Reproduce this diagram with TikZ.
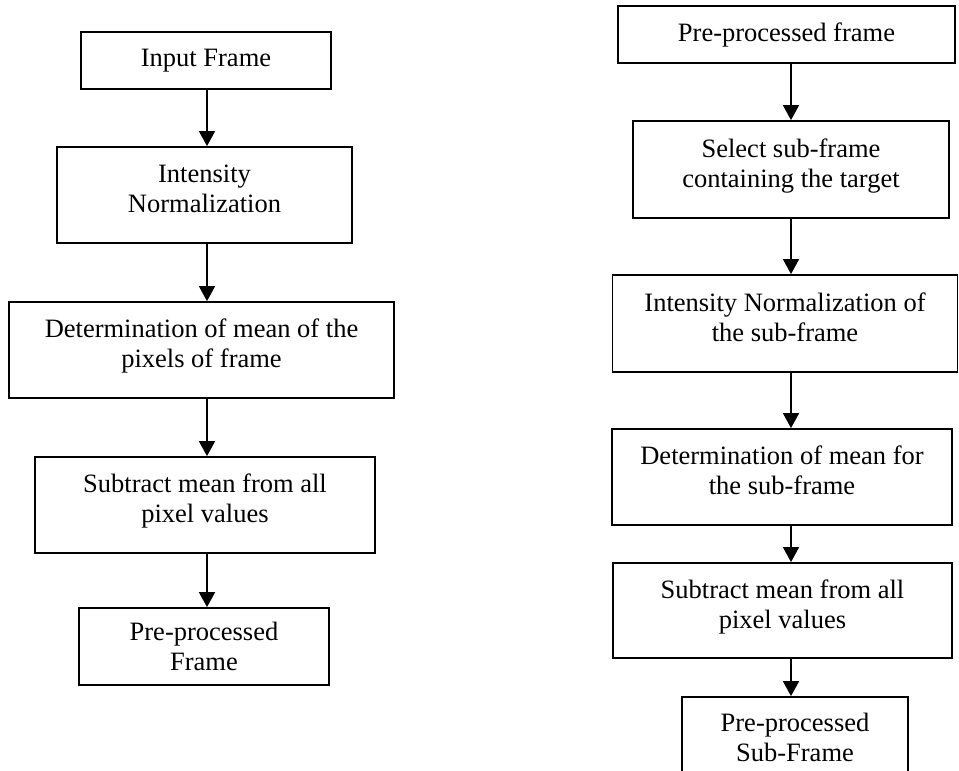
\documentclass[tikz,border=0pt]{standalone}
\usepackage{fontspec}
\setmainfont{Liberation Serif}
\usetikzlibrary{arrows.meta}
\newcommand\lowstrut{\rule[-13pt]{0pt}{13pt}}
\begin{document}
\begin{tikzpicture}[x=1pt,y=-1pt,
  box/.style={draw, line width=1.8pt, inner sep=0pt, align=center,
    font=\fontsize{26.5}{30}\selectfont},
  arr/.style={line width=1.8pt, -{Triangle[width=16pt,length=15pt]}}]
\useasboundingbox (0,0) rectangle (959,771);
% left column
\node[box, minimum width=250pt, minimum height=57pt] (l1) at (206,60.5) {Input Frame};
\node[box, minimum width=295pt, minimum height=96pt] (l2) at (204.5,195) {Intensity\\Normalization\lowstrut};
\node[box, minimum width=385pt, minimum height=96pt] (l3) at (201.5,350) {Determination of mean of the\\pixels of frame\lowstrut};
\node[box, minimum width=340pt, minimum height=96pt] (l4) at (205,505) {Subtract mean from all\\pixel values\lowstrut};
\node[box, minimum width=250pt, minimum height=77pt] (l5) at (204,646.5) {Pre-processed\\Frame};
% right column
\node[box, minimum width=337pt, minimum height=57pt] (r1) at (786.5,34.5) {Pre-processed frame};
\node[box, minimum width=316pt, minimum height=97pt] (r2) at (791,169.5) {Select sub-frame\\containing the target\lowstrut};
\node[box, minimum width=345pt, minimum height=97pt] (r3) at (785,323.5) {Intensity Normalization of\\the sub-frame\lowstrut};
\node[box, minimum width=340pt, minimum height=96pt] (r4) at (782,477) {Determination of mean for\\the sub-frame\lowstrut};
\node[box, minimum width=339pt, minimum height=95pt] (r5) at (782.5,610.5) {Subtract mean from all\\pixel values\lowstrut};
\node[box, minimum width=226pt, minimum height=80pt] (r6) at (795,737) {Pre-processed\\Sub-Frame};
% column axes
\coordinate (cl) at (207,0);
\coordinate (cr) at (791,0);
% arrows
\draw[arr] (l1.south -| cl) -- (l2.north -| cl);
\draw[arr] (l2.south -| cl) -- (l3.north -| cl);
\draw[arr] (l3.south -| cl) -- (l4.north -| cl);
\draw[arr] (l4.south -| cl) -- (l5.north -| cl);
\draw[arr] (r1.south -| cr) -- (r2.north -| cr);
\draw[arr] (r2.south -| cr) -- (r3.north -| cr);
\draw[arr] (r3.south -| cr) -- (r4.north -| cr);
\draw[arr] (r4.south -| cr) -- (r5.north -| cr);
\draw[arr] (r5.south -| cr) -- (r6.north -| cr);
\end{tikzpicture}
\end{document}
